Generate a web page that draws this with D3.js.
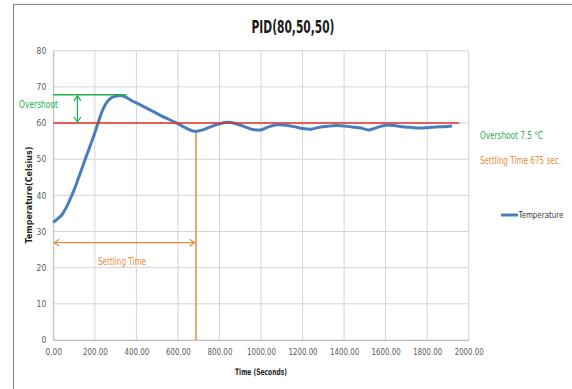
<!DOCTYPE html>
<html><head><meta charset="utf-8">
<script src="https://cdn.jsdelivr.net/npm/d3@7"></script>
<style>
body{margin:0;background:#fff;}
svg{display:block;}
text{font-family:"DejaVu Sans Condensed","Liberation Sans Narrow","Arial Narrow",sans-serif;}
</style></head>
<body><svg id="c" width="572" height="389"></svg>
<script>
// ---- data ----
const times = [0,20,40,60,80,100,120,140,160,180,200,220,240,260,280,300,320,340,360,380,400,440,480,520,560,600,640,680,720,760,800,840,880,920,960,1000,1040,1080,1120,1160,1200,1240,1280,1320,1360,1400,1440,1480,1520,1560,1600,1640,1680,1720,1760,1800,1840,1880,1920];
const temperature = [32.5,33.5,34.5,36.4,38.8,41.5,44.6,47.8,51.0,54.1,57.3,60.8,63.9,65.9,67.0,67.4,67.6,67.4,66.8,66.1,65.6,64.4,63.2,62.0,60.9,59.8,58.6,57.7,58.1,59.0,59.8,60.2,59.8,59.0,58.2,58.1,59.0,59.5,59.4,59.0,58.5,58.3,58.8,59.1,59.3,59.2,58.9,58.6,58.1,58.8,59.4,59.3,59.0,58.8,58.6,58.7,58.9,59.0,59.2];
const xTicks = [0,200,400,600,800,1000,1200,1400,1600,1800,2000];
const yTicks = [0,10,20,30,40,50,60,70,80];
const setpoint = 60, setpointEnd = 1955;
const peakLevel = 67.8, peakLineEnd = 353, overshootArrowT = 116;
const settleT = 687, settleTop = 57.3, settleArrowY = 26.9, settleArrowEnd = 680;
const title = "PID(80,50,50)";
const notes = ["Overshoot 7.5 °C", "Settling Time 675 sec."];

const svg = d3.select("#c");
const x = d3.scaleLinear().domain([0,2000]).range([53.3,468.7]);
const y = d3.scaleLinear().domain([0,80]).range([340,50.7]);

// frame
svg.append("rect").attr("x",13.5).attr("y",4.5).attr("width",600).attr("height",420)
  .attr("fill","none").attr("stroke","#8c8c8c").attr("stroke-width",1.2);

// grid
svg.append("g").selectAll("line").data(yTicks).join("line")
  .attr("x1",x(0)).attr("x2",x(2000)).attr("y1",d=>y(d)).attr("y2",d=>y(d))
  .attr("stroke","#d4d4d4").attr("stroke-width",1);
svg.append("g").selectAll("line").data(xTicks).join("line")
  .attr("y1",y(0)).attr("y2",y(80)).attr("x1",d=>x(d)).attr("x2",d=>x(d))
  .attr("stroke","#d4d4d4").attr("stroke-width",1);

// axes
const tickFont = '"DejaVu Sans Condensed","Liberation Sans Narrow",sans-serif';
const ax = svg.append("g").attr("transform",`translate(0,${y(0)})`)
  .call(d3.axisBottom(x).tickValues(xTicks).tickFormat(d3.format(".2f")).tickSize(0).tickPadding(9));
ax.select(".domain").attr("stroke","#bfbfbf");
ax.selectAll("text").attr("fill","#595959").attr("font-size",8.5).style("font-family",tickFont)
  .attr("textLength", d => d3.format(".2f")(d).length*4.15).attr("lengthAdjust","spacingAndGlyphs");
const ay = svg.append("g").attr("transform",`translate(${x(0)},0)`)
  .call(d3.axisLeft(y).tickValues(yTicks).tickSize(0).tickPadding(7));
ay.select(".domain").attr("stroke","#bfbfbf");
ay.selectAll("text").attr("fill","#595959").attr("font-size",8.5).style("font-family",tickFont);

// helper: text scaled horizontally to a target width (mimics a condensed face)
function label(tx, ty, str, size, col, width, opts={}){
  const g = svg.append("g");
  const t = g.append("text").attr("font-size",size).attr("fill",col)
    .attr("text-anchor",opts.anchor||"start").text(str);
  if(opts.bold) t.attr("font-weight","bold");
  const w = t.node().getComputedTextLength();
  const s = w > 0 ? width / w : 1;
  g.attr("transform", `translate(${tx},${ty})` + (opts.rotate ? ` rotate(${opts.rotate})` : "") + ` scale(${s},1)`);
  return g;
}

// axis titles
label(261, 375, "Time (Seconds)", 9, "#262626", 52, {anchor:"middle", bold:true});
label(32, 195, "Temperature(Celsius)", 9, "#262626", 97, {anchor:"middle", bold:true, rotate:-90});

// title
label(293, 33, title, 18, "#1a1a1a", 83, {anchor:"middle", bold:true});

// temperature line
const data = times.map((t,i)=>({t, v:temperature[i]}));
svg.append("path").datum(data)
  .attr("d", d3.line().x(d=>x(d.t)).y(d=>y(d.v)).curve(d3.curveCatmullRom))
  .attr("fill","none").attr("stroke","#4a7ebb").attr("stroke-width",3);

// setpoint line
svg.append("line").attr("x1",x(0)).attr("x2",x(setpointEnd)).attr("y1",y(setpoint)).attr("y2",y(setpoint))
  .attr("stroke","#e0302e").attr("stroke-width",1.5);

// overshoot annotation
const green = "#1fb04a", orange = "#ec8b3c";
svg.append("line").attr("x1",x(0)).attr("x2",x(peakLineEnd)).attr("y1",y(peakLevel)).attr("y2",y(peakLevel))
  .attr("stroke",green).attr("stroke-width",1.5);
function vArrow(px, y1, y2, col){
  svg.append("line").attr("x1",px).attr("x2",px).attr("y1",y1).attr("y2",y2).attr("stroke",col).attr("stroke-width",1.2);
  svg.append("path").attr("d",`M${px-3.5},${y1+5}L${px},${y1}L${px+3.5},${y1+5}M${px-3.5},${y2-5}L${px},${y2}L${px+3.5},${y2-5}`)
    .attr("fill","none").attr("stroke",col).attr("stroke-width",1.2);
}
function hArrow(py, x1, x2, col){
  svg.append("line").attr("x1",x1).attr("x2",x2).attr("y1",py).attr("y2",py).attr("stroke",col).attr("stroke-width",1.2);
  svg.append("path").attr("d",`M${x1+5},${py-3.5}L${x1},${py}L${x1+5},${py+3.5}M${x2-5},${py-3.5}L${x2},${py}L${x2-5},${py+3.5}`)
    .attr("fill","none").attr("stroke",col).attr("stroke-width",1.2);
}
vArrow(x(overshootArrowT), y(peakLevel)+1, y(setpoint)-1, green);
label(38.5, 107.5, "Overshoot", 10, green, 39, {anchor:"middle"});

// settling annotation
svg.append("line").attr("x1",x(settleT)).attr("x2",x(settleT)).attr("y1",y(settleTop)).attr("y2",y(0))
  .attr("stroke",orange).attr("stroke-width",1.5);
hArrow(y(settleArrowY), x(0)+1, x(settleArrowEnd), orange);
label(122, 265, "Settling Time", 10, orange, 48, {anchor:"middle"});

// right notes
label(480, 138.5, notes[0], 10, green, 63);
label(480, 163.5, notes[1], 10, orange, 81);

// legend
svg.append("line").attr("x1",501).attr("x2",518).attr("y1",215).attr("y2",215)
  .attr("stroke","#4a7ebb").attr("stroke-width",3);
label(518.5, 218, "Temperature", 8.5, "#404040", 45);
</script></body></html>
